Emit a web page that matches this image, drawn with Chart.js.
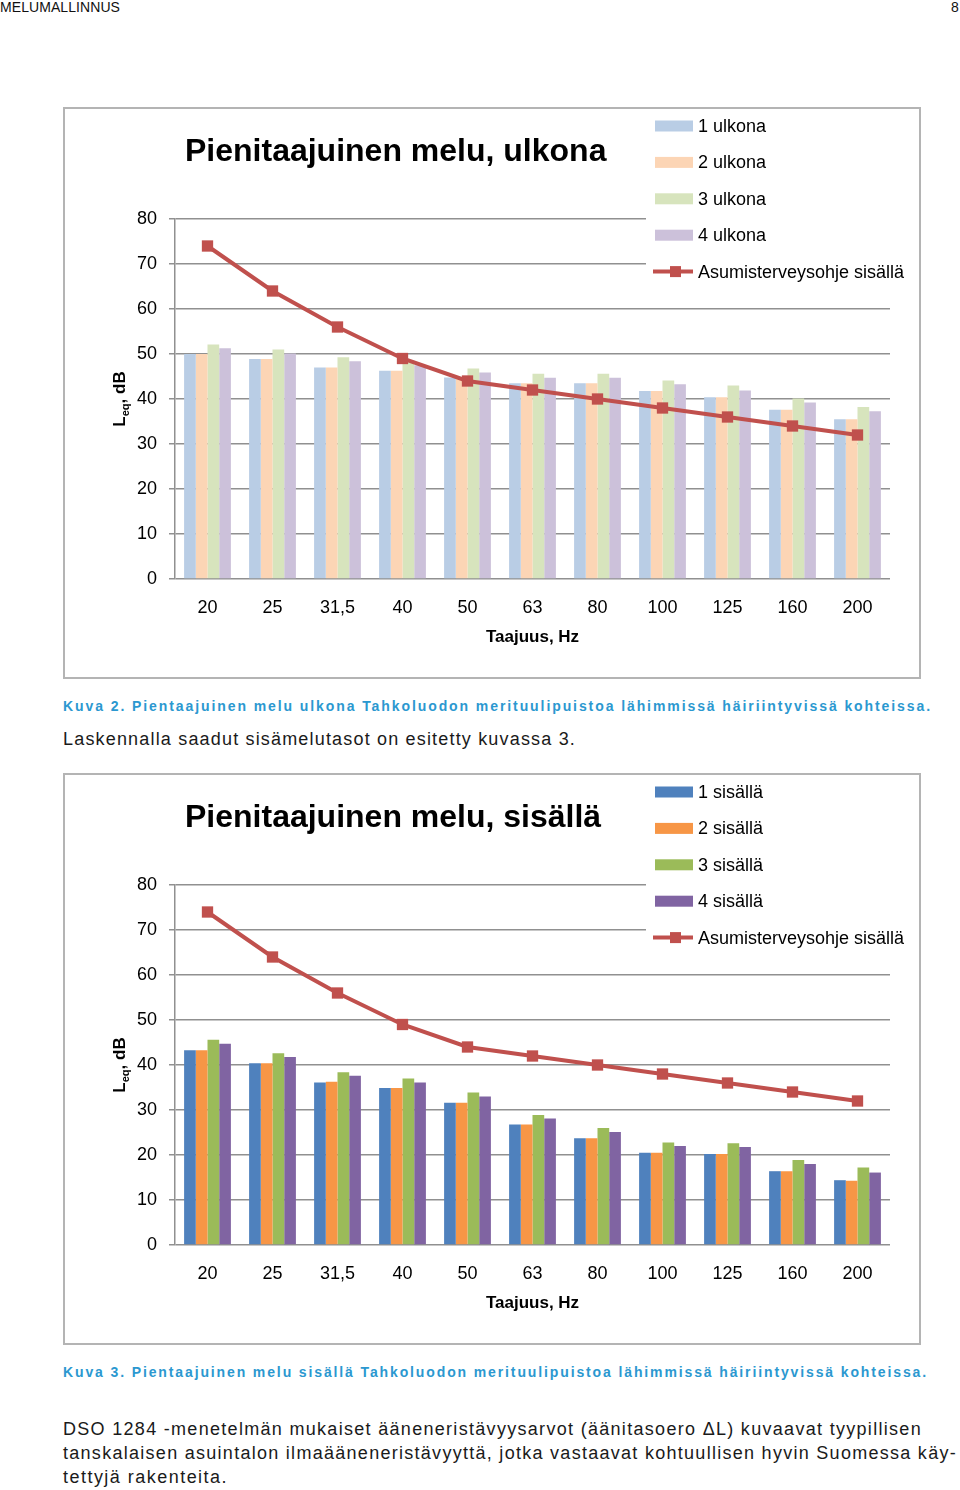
<!DOCTYPE html>
<html>
<head>
<meta charset="utf-8">
<script src="https://cdn.jsdelivr.net/npm/chart.js@4.4.1/dist/chart.umd.min.js"></script>
<style>
  html, body { margin: 0; padding: 0; background: #fff; }
  body { width: 960px; height: 1490px; position: relative; overflow: hidden; font-family: "Liberation Sans Narrow", "Liberation Sans", Arial, sans-serif; color: #111; }
  .txt { position: absolute; white-space: nowrap; line-height: 1; }
  .hdr { font-size: 14px; top: 0; }
  .cap { font-size: 14px; font-weight: bold; color: #2b98d0; }
  .body { font-size: 18px; color: #1a1a1a; }
  .frame { position: absolute; left: 63px; width: 854px; height: 568px; border: 2px solid #b4b4b4; }
  .frame canvas { display: block; }
</style>
</head>
<body>
<div class="txt hdr" style="left:0px;" data-w="120">MELUMALLINNUS</div>
<div class="txt hdr" style="left:951px;">8</div>

<div class="frame" style="top:107px;"><canvas id="chartOut" width="854" height="568"></canvas></div>
<div class="txt cap" style="left:63px; top:699px;" data-w="869">Kuva 2. Pientaajuinen melu ulkona Tahkoluodon merituulipuistoa lähimmissä häiriintyvissä kohteissa.</div>
<div class="txt body" style="left:63px; top:730px;" data-w="513">Laskennalla saadut sisämelutasot on esitetty kuvassa 3.</div>

<div class="frame" style="top:773px;"><canvas id="chartIn" width="854" height="568"></canvas></div>
<div class="txt cap" style="left:63px; top:1365px;" data-w="865">Kuva 3. Pientaajuinen melu sisällä Tahkoluodon merituulipuistoa lähimmissä häiriintyvissä kohteissa.</div>
<div class="txt body" style="left:63px; top:1420px;" data-w="859">DSO 1284 -menetelmän mukaiset ääneneristävyysarvot (äänitasoero ΔL) kuvaavat tyypillisen</div>
<div class="txt body" style="left:63px; top:1444px;" data-w="894">tanskalaisen asuintalon ilmaääneneristävyyttä, jotka vastaavat kohtuullisen hyvin Suomessa käy-</div>
<div class="txt body" style="left:63px; top:1468px;" data-w="165">tettyjä rakenteita.</div>

<script>
// Data
const freqLabels = ['20', '25', '31,5', '40', '50', '63', '80', '100', '125', '160', '200'];
const guideline = [74, 64, 56, 49, 44, 42, 40, 38, 36, 34, 32];

const out1 = [50.0, 48.9, 47.0, 46.3, 44.8, 43.5, 43.5, 41.8, 40.4, 37.6, 35.5];
const out2 = [50.0, 48.9, 47.0, 46.3, 44.8, 43.5, 43.5, 41.8, 40.4, 37.6, 35.5];
const out3 = [52.1, 51.0, 49.3, 48.6, 46.8, 45.6, 45.6, 44.1, 43.0, 40.1, 38.2];
const out4 = [51.3, 50.1, 48.4, 47.5, 45.9, 44.7, 44.7, 43.3, 41.9, 39.2, 37.3];

const in1 = [43.3, 40.4, 36.1, 34.9, 31.6, 26.8, 23.7, 20.5, 20.2, 16.4, 14.4];
const in2 = [43.3, 40.4, 36.3, 34.9, 31.6, 26.8, 23.7, 20.5, 20.2, 16.4, 14.3];
const in3 = [45.6, 42.6, 38.4, 37.0, 33.9, 28.9, 26.0, 22.8, 22.6, 18.9, 17.2];
const in4 = [44.7, 41.8, 37.6, 36.1, 33.0, 28.1, 25.1, 22.0, 21.8, 18.0, 16.1];

const outNames = ['1 ulkona', '2 ulkona', '3 ulkona', '4 ulkona'];
const inNames = ['1 sisällä', '2 sisällä', '3 sisällä', '4 sisällä'];
const guideName = 'Asumisterveysohje sisällä';

const paleColors = ['#b9cde5', '#fcd5b5', '#d7e4bd', '#ccc1da'];
const strongColors = ['#4f81bd', '#f79646', '#9bbb59', '#8064a2'];
const lineColor = '#c0504d';
const gridColor = '#909090';

Chart.defaults.font.family = '"Liberation Sans", Arial, sans-serif';
Chart.defaults.color = '#000';

// title, legend box (over the top gridlines) and the y axis label with subscript
const decor = {
    id: 'decor',
    afterDraw(chart, args, opts) {
        const ctx = chart.ctx;
        const area = chart.chartArea;
        ctx.save();

        ctx.fillStyle = '#fff';
        ctx.fillRect(581, 0, chart.width - 581, 180);

        ctx.fillStyle = '#000';
        ctx.textBaseline = 'middle';
        ctx.font = 'bold 32px "Liberation Sans", Arial';
        ctx.fillText(opts.title, 120, 43);

        // legend
        ctx.font = '18px "Liberation Sans", Arial';
        chart.data.datasets.forEach((ds, i) => {
            const y = 17 + i * 36.4;
            if (ds.type === 'line') {
                ctx.strokeStyle = ds.borderColor;
                ctx.lineWidth = 4;
                ctx.beginPath();
                ctx.moveTo(588, y);
                ctx.lineTo(628, y);
                ctx.stroke();
                ctx.fillStyle = ds.borderColor;
                ctx.fillRect(605, y - 5.5, 11, 11);
            } else {
                ctx.fillStyle = ds.backgroundColor;
                ctx.fillRect(590, y - 5.5, 38, 11);
            }
            ctx.fillStyle = '#000';
            ctx.fillText(ds.label, 633, y + 1);
        });

        // y axis title: L_eq, dB
        ctx.translate(54, (area.top + area.bottom) / 2);
        ctx.rotate(-Math.PI / 2);
        const big = 'bold 17px "Liberation Sans", Arial';
        const small = 'bold 11px "Liberation Sans", Arial';
        ctx.font = big;
        const wL = ctx.measureText('L').width;
        const wRest = ctx.measureText(', dB').width;
        ctx.font = small;
        const wSub = ctx.measureText('eq').width;
        let x = -(wL + wSub + wRest) / 2;
        ctx.textBaseline = 'alphabetic';
        ctx.font = big;
        ctx.fillText('L', x, 6);
        x += wL;
        ctx.font = small;
        ctx.fillText('eq', x, 10);
        x += wSub;
        ctx.font = big;
        ctx.fillText(', dB', x, 6);

        ctx.restore();
    }
};

function makeChart(canvasId, title, names, series, colors) {
    const ctx = document.getElementById(canvasId).getContext('2d');
    const datasets = series.map((vals, i) => ({
        type: 'bar',
        label: names[i],
        data: vals,
        backgroundColor: colors[i],
        categoryPercentage: 0.72,
        barPercentage: 1.0,
        order: 2,
    }));
    datasets.push({
        type: 'line',
        label: guideName,
        data: guideline,
        borderColor: lineColor,
        backgroundColor: lineColor,
        borderWidth: 4,
        pointStyle: 'rect',
        pointRadius: 8,
        pointBackgroundColor: lineColor,
        pointBorderColor: lineColor,
        pointBorderWidth: 0,
        tension: 0,
        order: 1,
    });
    return new Chart(ctx, {
        type: 'bar',
        data: { labels: freqLabels, datasets: datasets },
        options: {
            responsive: false,
            animation: false,
            devicePixelRatio: 1,
            layout: { padding: { top: 110, right: 29, left: 50, bottom: 0 } },
            plugins: {
                legend: { display: false },
                tooltip: { enabled: false },
                decor: { title: title },
            },
            scales: {
                x: {
                    grid: { display: false, drawTicks: false },
                    border: { display: false },
                    ticks: { font: { size: 18 }, padding: 18, color: '#000' },
                    title: {
                        display: true,
                        text: 'Taajuus, Hz',
                        font: { size: 17, weight: 'bold' },
                        padding: { top: 0, bottom: 29 },
                        color: '#000',
                    },
                    afterFit: (scale) => { scale.height = 98; },
                },
                y: {
                    min: 0,
                    max: 80,
                    ticks: { stepSize: 10, font: { size: 18 }, padding: 12, color: '#000' },
                    grid: { color: gridColor, lineWidth: 1.5, tickLength: 6 },
                    border: { color: gridColor, width: 1.5 },
                    afterFit: (scale) => { scale.width = 60; },
                },
            },
        },
        plugins: [decor],
    });
}

makeChart('chartOut', 'Pienitaajuinen melu, ulkona', outNames, [out1, out2, out3, out4], paleColors);
makeChart('chartIn', 'Pienitaajuinen melu, sisällä', inNames, [in1, in2, in3, in4], strongColors);

// stretch the text lines to the widths seen in the reference
document.querySelectorAll('[data-w]').forEach((el) => {
    const target = +el.dataset.w;
    el.style.letterSpacing = '0px';
    const w = el.getBoundingClientRect().width;
    el.style.letterSpacing = ((target - w) / el.textContent.length) + 'px';
});
</script>
</body>
</html>
